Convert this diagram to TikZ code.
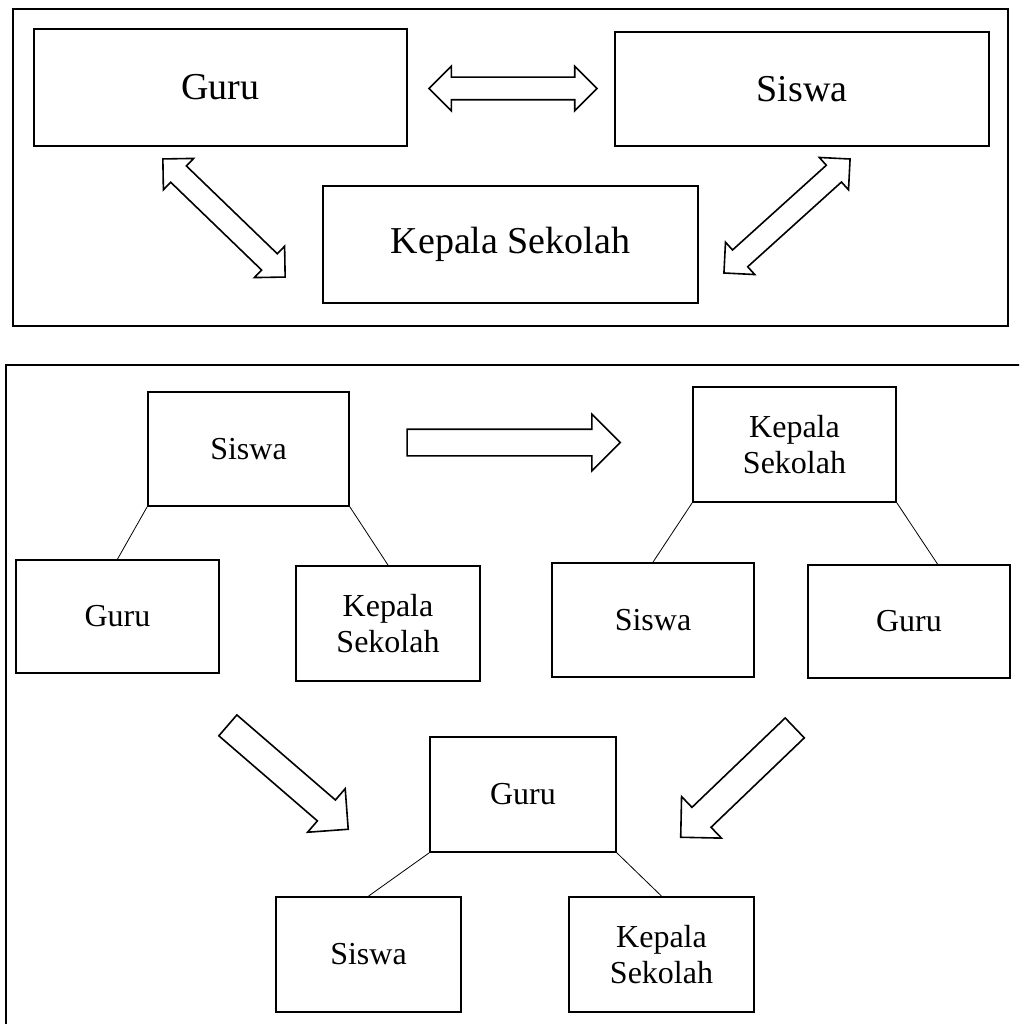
\documentclass[tikz,border=0pt]{standalone}
\usepackage{fontspec}
\setmainfont{Liberation Serif}
\usetikzlibrary{shapes.arrows,calc}
\newcommand\Ftop{\fontsize{38}{44}\selectfont}
\newcommand\Fbot{\fontsize{32}{36}\selectfont}
\tikzset{
  box/.style={draw, line width=1.8pt, inner sep=0pt, align=center, rectangle},
  topbox/.style={box, font=\Ftop},
  botbox/.style={box, font=\Fbot},
  frame/.style={line width=2pt},
  fat/.style={draw, line width=1.6pt, inner xsep=0pt, fill=white},
  link/.style={line width=0.8pt},
}
\begin{document}
\begin{tikzpicture}[x=1pt,y=-1pt]
\clip (0,0) rectangle (1019,1024);
\fill[white] (0,0) rectangle (1019,1024);
% ---------- top panel ----------
\draw[frame] (13,9) rectangle (1008,326);
\node[topbox, minimum width=373pt, minimum height=117pt] (guruA) at (220.5,87.5) {Guru};
\node[topbox, minimum width=374pt, minimum height=114pt] (siswaA) at (802,89) {Siswa};
\node[topbox, minimum width=375pt, minimum height=117pt] (kepsekA) at (510.5,244.5) {Kepala Sekolah};
\node[fat, double arrow, minimum height=168pt, inner ysep=10.5pt, double arrow head extend=11pt] (arGS) at (513,88.5) {};
\node[fat, double arrow, minimum height=170pt, inner ysep=10.5pt, double arrow head extend=10.5pt, rotate=-44] (arGK) at (224,218) {};
\node[fat, double arrow, minimum height=170pt, inner ysep=10.5pt, double arrow head extend=10.5pt, rotate=42.1] (arSK) at (787,216) {};
% ---------- bottom panel ----------
\draw[frame] (1030,365) -- (6,365) -- (6,1035);
\node[botbox, minimum width=201pt, minimum height=114pt] (siswaB) at (248.5,449) {Siswa};
\node[botbox, minimum width=203pt, minimum height=115pt] (kepsekB) at (794.5,444.5) {Kepala\\Sekolah};
\node[botbox, minimum width=203pt, minimum height=113pt] (guruB1) at (117.5,616.5) {Guru};
\node[botbox, minimum width=184pt, minimum height=115pt] (kepsekB1) at (388,623.5) {Kepala\\Sekolah};
\node[botbox, minimum width=202pt, minimum height=114pt] (siswaB2) at (653,620) {Siswa};
\node[botbox, minimum width=202pt, minimum height=113pt] (guruB2) at (909,621.5) {Guru};
\node[botbox, minimum width=186pt, minimum height=115pt] (guruC) at (523,794.5) {Guru};
\node[botbox, minimum width=185pt, minimum height=115pt] (siswaC1) at (368.5,954.5) {Siswa};
\node[botbox, minimum width=185pt, minimum height=115pt] (kepsekC1) at (661.5,954.5) {Kepala\\Sekolah};
% links
\draw[link] (siswaB.south west) -- (guruB1.north);
\draw[link] (siswaB.south east) -- (kepsekB1.north);
\draw[link] (kepsekB.south west) -- (siswaB2.north);
\draw[link] (kepsekB.south east) -- ($(guruB2.north west)!0.64!(guruB2.north east)$);
\draw[link] (guruC.south west) -- (siswaC1.north);
\draw[link] (guruC.south east) -- (kepsekC1.north);
% fat arrows
\node[fat, single arrow, minimum height=213pt, inner ysep=12.5pt, single arrow head extend=15pt] (arSK2) at (507,442.5) {};
\node[fat, single arrow, minimum height=159pt, inner ysep=13pt, single arrow head extend=15pt, rotate=-40.8] (arL) at (282.8,772.8) {};
\node[fat, single arrow, minimum height=158pt, inner ysep=13pt, single arrow head extend=15pt, rotate=-136.2] (arR) at (742.7,777.8) {};
\end{tikzpicture}
\end{document}
